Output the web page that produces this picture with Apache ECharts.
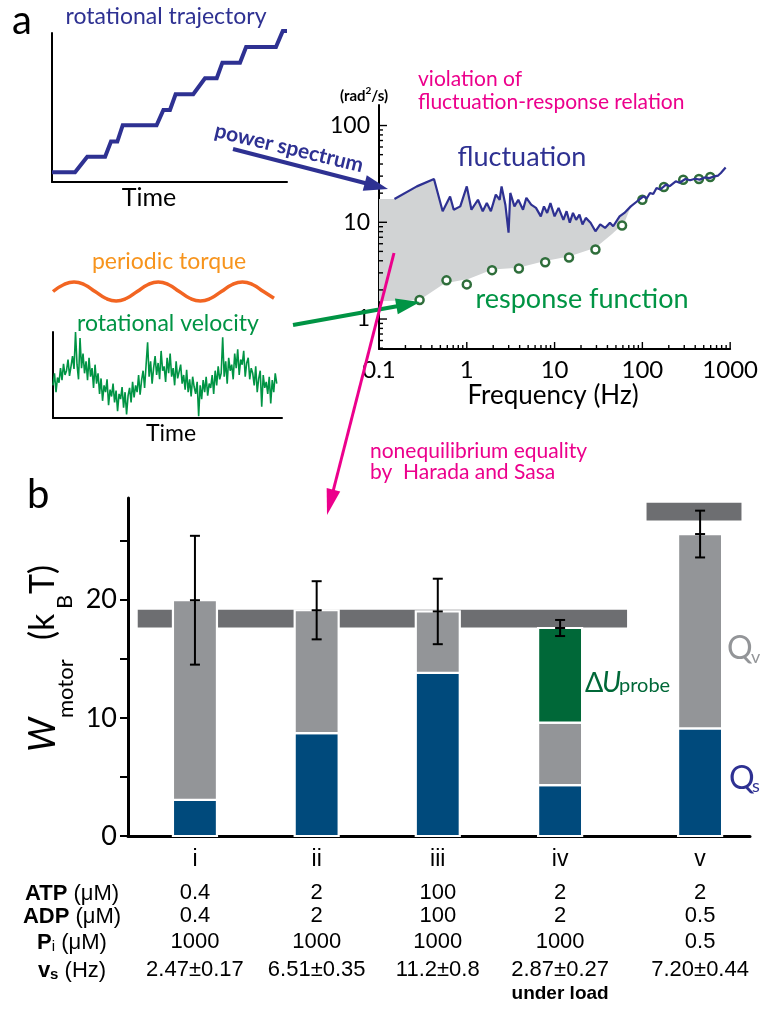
<!DOCTYPE html>
<html>
<head>
<meta charset="utf-8">
<script src="https://cdn.jsdelivr.net/npm/echarts@6/dist/echarts.min.js"></script>
<style>
  html, body { margin: 0; padding: 0; background: #fff; }
  #chart { width: 761px; height: 1017px; }
</style>
</head>
<body>
<div id="chart"></div>
<script>
// ---- panel a : insets ----
const trajTime  = [0, 9.8, 15.0, 22.6, 25.1, 27.8, 30.1, 44.5, 47.4, 50.2, 52.6, 60.1, 65.1, 70.1, 72.5, 80.0, 82.6, 95.3, 98.2, 100];
const trajAngle = [6.5, 6.5, 17.0, 17.0, 27.1, 27.1, 38.1, 38.1, 48.3, 48.3, 58.9, 58.9, 69.6, 69.6, 80.1, 80.1, 90.6, 90.6, 101.3, 101.3];

const torque = [0, 0.71, 1, 0.71, 0, -0.71, -1, -0.71, 0, 0.71, 1, 0.71, 0, -0.71, -1, -0.71, 0, 0.71, 1, 0.71, 0, -0.71];

const velocity = [
  38, 52, 30, 47, 41, 58, 44, 63, 50, 55, 68, 49, 60, 72, 57, 100, 62, 45, 93, 58,
  75, 52, 66, 44, 70, 48, 58, 35, 62, 40, 52, 28, 46, 20, 38, 30, 45, 15, 33, 25,
  40, 18, 32, 8, 28, 22, 36, 12, 30, 4, 26, 35, 18, 42, 24, 38, 30, 50, 27, 44,
  55, 35, 62, 88, 48, 66, 40, 58, 72, 50, 64, 45, 78, 55, 60, 42, 70, 52, 75, 48, 58, 38, 66, 46, 54,
  62, 40, 50, 33, 56, 30, 45, 25, 48, 36, 28, 42, 2, 38, 22, 44, 30, 48, 26, 40,
  35, 50, 28, 55, 38, 60, 45, 52, 94, 48, 66, 40, 70, 55, 62, 45, 75, 58, 80, 50, 68, 62, 78, 48, 64,
  70, 45, 58, 52, 38, 60, 30, 46, 55, 13, 50, 35, 42, 28, 48, 17, 44, 30, 52, 40
];

// ---- panel a : spectrum (Hz, rad^2/s) ----
const fluctFreq = [0.150, 0.270, 0.423, 0.531, 0.645, 0.71, 0.843, 1.0, 1.13, 1.34, 1.52, 1.69, 1.88, 2.14, 2.37, 2.49, 2.75, 2.99, 3.13, 3.49,
  3.86, 4.37, 4.77, 5.41, 6.14, 6.97, 7.57, 8.23, 8.97, 10, 11.1, 12.6, 13.7, 14.9, 16.2, 17.6, 19.2, 20.8, 22.7, 25.7,
  29.2, 33.1, 37.6, 42.7, 46.5, 55, 62.4, 73.8, 87.4, 103, 112, 122, 133, 145, 160, 186, 205, 240, 265, 309,
  350, 398, 450, 513, 580, 661, 730, 783, 888];
const fluctPower = [17.4, 23.5, 28.0, 13.0, 18.5, 13.5, 14.6, 23.5, 13.5, 17.1, 13.0, 15.8, 13.0, 19.3, 17.1, 23.5, 15.2, 7.8, 20.1, 14.6,
  17.1, 13.5, 17.9, 15.2, 14.1, 11.5, 14.6, 12.5, 15.8, 11.5, 14.1, 10.6, 13.0, 9.9, 12.5, 10.6, 12.0, 9.5, 11.1, 9.9,
  8.07, 9.5, 8.75, 9.9, 9.1, 11.5, 12.5, 14.6, 16.5, 18.5, 17.6, 20.1, 19.6, 22.6, 21.8, 24.5, 23.6, 26.5, 25.6, 28.0,
  27.2, 28.2, 27.6, 29.1, 28.6, 29.8, 30.4, 32.3, 36.8];

const respFreq  = [0.29, 0.587, 1.0, 1.94, 3.92, 7.82, 14.6, 29.2, 58.7, 100, 176, 292, 441, 593];
const respPower = [1.57, 2.51, 2.28, 3.2, 3.33, 3.87, 4.33, 5.23, 9.25, 17.1, 23.2, 27.5, 28.0, 29.4];

// shaded gap between fluctuation and response
const shadeStart = [0.1, 17.4];
const shadeLowFreq  = [0.1, 0.29, 0.555, 1.06, 1.96, 3.86, 7.57, 14.9, 29.2, 44.5, 62.4];
const shadeLowPower = [1.53, 1.57, 2.33, 2.61, 3.25, 3.39, 3.96, 4.46, 5.44, 7.47, 9.86];

const logMajorX = [1, 10, 100, 1000];
const logMinorX = [0.2, 0.3, 0.4, 0.5, 0.6, 0.7, 0.8, 0.9, 2, 3, 4, 5, 6, 7, 8, 9,
  20, 30, 40, 50, 60, 70, 80, 90, 200, 300, 400, 500, 600, 700, 800, 900];
const logLabelX = [0.1, 1, 10, 100, 1000];
const logMajorY = [1, 10, 100];
const logMinorY = [0.5, 0.6, 0.7, 0.8, 0.9, 2, 3, 4, 5, 6, 7, 8, 9, 20, 30, 40, 50, 60, 70, 80, 90];

// ---- panel b ----
const categories = ['i', 'ii', 'iii', 'iv', 'v'];
const barPos = [0.55, 1.55, 2.545, 3.55, 4.70];
const qs    = [3.05, 8.7, 13.8, 4.3, 9.1];
const qv    = [16.9, 10.4, 5.2, 5.3, 16.45];
const probe = [0, 0, 0, 8.0, 0];
const wErr  = [5.45, 2.46, 2.77, 0.68, 1.98];
const bandFrom = [0.08, 4.26];
const bandTo   = [4.10, 5.04];
const bandLow  = [17.65, 26.7];
const bandHigh = [19.15, 28.2];
const yTicksB  = [0, 5, 10, 15, 20, 25];
const yLabelsB = [0, 10, 20];

const atp = ['0.4', '2', '100', '2', '2'];
const adp = ['0.4', '2', '100', '2', '0.5'];
const pi  = ['1000', '1000', '1000', '1000', '0.5'];
const vs  = ['2.47±0.17', '6.51±0.35', '11.2±0.8', '2.87±0.27', '7.20±0.44'];
const note = ['', '', '', 'under load', ''];

const NAVY = '#2e3192', GREEN = '#009444', MAGENTA = '#ec008c';
const SANS = 'Lato, "Noto Sans", sans-serif';
const ARIAL = '"Liberation Sans", Arial, sans-serif';

function txt(x, y, text, font, fill, align, extra) {
  return Object.assign({
    type: 'text', x: x, y: y, z: 20,
    style: { text: text, font: font, fill: fill, align: align || 'center', verticalAlign: 'middle' }
  }, extra || {});
}

function arrow(x0, y0, x1, y1, color, lw, headLen, headHalf) {
  const len = Math.hypot(x1 - x0, y1 - y0);
  const ux = (x1 - x0) / len, uy = (y1 - y0) / len;
  const bx = x1 - ux * headLen, by = y1 - uy * headLen;
  return [
    { type: 'line', z: 20, shape: { x1: x0, y1: y0, x2: bx + ux * 2, y2: by + uy * 2 },
      style: { stroke: color, lineWidth: lw } },
    { type: 'polygon', z: 20, shape: { points: [[x1, y1], [bx - uy * headHalf, by + ux * headHalf], [bx + uy * headHalf, by - ux * headHalf]] },
      style: { fill: color } }
  ];
}

const graphics = [
  txt(12, 21, 'a', '400 40px ' + SANS, '#000', 'left'),
  txt(166, 17, 'rotational trajectory', '400 23px ' + SANS, NAVY),
  txt(149, 198, 'Time', '400 25px ' + SANS, '#000'),
  txt(289, 148, 'power spectrum', '700 21px ' + SANS, NAVY, 'center', { rotation: -0.235 }),
  txt(522, 157, 'fluctuation', '400 27px ' + SANS, NAVY),
  txt(582, 299, 'response function', '400 27px ' + SANS, GREEN),
  txt(418, 79, 'violation of', '400 21px ' + SANS, MAGENTA, 'left'),
  txt(418, 102, 'fluctuation-response relation', '400 21px ' + SANS, MAGENTA, 'left'),
  {
    type: 'text', x: 364, y: 95, z: 20,
    style: {
      text: '{b|(rad}{s|2}{b|/s)}', align: 'center', verticalAlign: 'middle',
      rich: {
        b: { font: '700 15px ' + SANS, fill: '#000', verticalAlign: 'bottom', lineHeight: 18 },
        s: { font: '700 10px ' + SANS, fill: '#000', verticalAlign: 'top', lineHeight: 18 }
      }
    }
  },
  txt(553, 396, 'Frequency (Hz)', '400 26px ' + SANS, '#000'),
  txt(169, 262, 'periodic torque', '400 23px ' + SANS, '#f7941d'),
  txt(168, 324, 'rotational velocity', '400 23px ' + SANS, GREEN),
  txt(171, 434, 'Time', '400 23px ' + SANS, '#000'),
  txt(370, 451, 'nonequilibrium equality', '400 21px ' + SANS, MAGENTA, 'left'),
  txt(370, 472, 'by  Harada and Sasa', '400 21px ' + SANS, MAGENTA, 'left'),
  txt(27, 495, 'b', '400 40px ' + SANS, '#000', 'left'),
  {
    type: 'group', x: 55, y: 752, rotation: Math.PI / 2, z: 20,
    children: [
      txt(0, -12, 'W', 'italic 400 36px ' + SANS, '#000', 'left'),
      txt(34, 11, 'motor', '400 22px ' + SANS, '#000', 'left'),
      txt(112, -12, '(k', '400 34px ' + SANS, '#000', 'left'),
      txt(143, 10, 'B', '400 22px ' + SANS, '#000', 'left'),
      txt(158, -12, 'T)', '400 34px ' + SANS, '#000', 'left')
    ]
  },
  txt(585, 683, 'Δ', '400 27px ' + SANS, '#006838', 'left'),
  txt(602, 683, 'U', 'italic 400 28px ' + SANS, '#006838', 'left'),
  txt(619, 686, 'probe', '400 20px ' + SANS, '#006838', 'left'),
  txt(727, 649, 'Q', '400 32px ' + SANS, '#939598', 'left'),
  txt(751, 657, 'v', '400 18px ' + SANS, '#939598', 'left'),
  txt(729, 779, 'Q', '400 32px ' + SANS, NAVY, 'left'),
  txt(752, 786, 's', '400 18px ' + SANS, NAVY, 'left')
];

const rowRich = {
  b: { font: '700 22px ' + ARIAL, fill: '#000', verticalAlign: 'bottom', lineHeight: 24 },
  bs: { font: '700 15px ' + ARIAL, fill: '#000', verticalAlign: 'bottom', lineHeight: 24 },
  ns: { font: '400 15px ' + ARIAL, fill: '#000', verticalAlign: 'bottom', lineHeight: 24 },
  n: { font: '400 22px ' + ARIAL, fill: '#000', verticalAlign: 'bottom', lineHeight: 24 }
};
[['{b|ATP}{n| (μM)}', 893], ['{b|ADP}{n| (μM)}', 916], ['{b|P}{ns|i}{n| (μM)}', 942], ['{b|v}{bs|s}{n| (Hz)}', 970]].forEach(function (r) {
  graphics.push({ type: 'text', x: 72, y: r[1], z: 20,
    style: { text: r[0], align: 'center', verticalAlign: 'middle', rich: rowRich } });
});

graphics.push.apply(graphics, arrow(233, 149, 388, 189, NAVY, 4, 24, 8));
graphics.push.apply(graphics, arrow(293, 325, 420, 302, GREEN, 4, 24, 8));
graphics.push.apply(graphics, arrow(394, 253, 327, 515, MAGENTA, 3, 26, 7));

const plainAxis = (grid, min, max, show) => ({
  gridIndex: grid, type: 'value', min: min, max: max, show: show,
  axisLine: { show: true, onZero: false, lineStyle: { color: '#000', width: 2 } },
  axisTick: { show: false }, axisLabel: { show: false }, splitLine: { show: false }
});

const X_MIN = 0.1, Y_MIN = 0.49;

const option = {
  animation: false,
  backgroundColor: '#fff',
  grid: [
    { left: 52, top: 33, width: 235, height: 149 },
    { left: 53, top: 282, width: 221, height: 19 },
    { left: 53, top: 332, width: 229, height: 86 },
    { left: 379, top: 105, width: 364, height: 244 },
    { left: 128, top: 498, width: 622, height: 338 }
  ],
  xAxis: [
    plainAxis(0, 0, 100, true),
    plainAxis(1, 0, 21, false),
    plainAxis(2, 0, 152.5, true),
    {
      gridIndex: 3, type: 'log', logBase: 10, min: X_MIN, max: 1000,
      axisLine: { onZero: false, lineStyle: { color: '#000', width: 2 } },
      axisTick: { show: false },
      axisLabel: { customValues: logLabelX, formatter: v => String(v), margin: 9, color: '#000', fontSize: 24, fontFamily: SANS },
      splitLine: { show: false }
    },
    {
      gridIndex: 4, type: 'value', min: 0, max: 5.11,
      axisLine: { onZero: false, lineStyle: { color: '#000', width: 3 } },
      axisTick: { show: false },
      axisLabel: { customValues: barPos, formatter: v => categories[barPos.indexOf(v)], margin: 12,
        color: '#000', fontSize: 23, fontFamily: ARIAL },
      splitLine: { show: false }
    }
  ],
  yAxis: [
    plainAxis(0, 0, 100, true),
    plainAxis(1, -1, 1, false),
    plainAxis(2, 0, 100, true),
    {
      gridIndex: 3, type: 'log', logBase: 10, min: Y_MIN, max: 163,
      axisLine: { onZero: false, lineStyle: { color: '#000', width: 2 } },
      axisTick: { show: false },
      axisLabel: { customValues: logMajorY, formatter: v => String(v), margin: 9, color: '#000', fontSize: 23, fontFamily: SANS },
      splitLine: { show: false }
    },
    {
      gridIndex: 4, type: 'value', min: 0, max: 28.6,
      axisLine: { onZero: false, lineStyle: { color: '#000', width: 3 } },
      axisTick: { length: 8, customValues: yTicksB, lineStyle: { color: '#000', width: 2 } },
      axisLabel: { customValues: yLabelsB, margin: 11, color: '#000', fontSize: 27, fontFamily: SANS },
      splitLine: { show: false }
    }
  ],
  series: [
    {
      type: 'line', xAxisIndex: 0, yAxisIndex: 0, clip: false, showSymbol: false,
      data: trajTime.map((t, i) => [t, trajAngle[i]]),
      lineStyle: { color: NAVY, width: 4, join: 'miter' }
    },
    {
      type: 'line', xAxisIndex: 1, yAxisIndex: 1, clip: false, showSymbol: false, smooth: 0.5,
      data: torque.map((v, i) => [i, v]),
      lineStyle: { color: '#f26522', width: 3.5 }
    },
    {
      type: 'line', xAxisIndex: 2, yAxisIndex: 2, clip: false, showSymbol: false,
      data: velocity.map((v, i) => [i, v]),
      lineStyle: { color: GREEN, width: 1.6 }
    },
    {
      type: 'custom', xAxisIndex: 3, yAxisIndex: 3, data: [[1, 1]], silent: true,
      renderItem: function (params, api) {
        const pts = [api.coord(shadeStart)];
        fluctFreq.forEach(function (f, i) { if (f <= 74) pts.push(api.coord([f, fluctPower[i]])); });
        for (let i = shadeLowFreq.length - 1; i >= 0; i--) pts.push(api.coord([shadeLowFreq[i], shadeLowPower[i]]));
        return { type: 'polygon', shape: { points: pts }, style: { fill: '#d1d3d4' } };
      }
    },
    {
      // log-axis ticks (major + minor), drawn inward
      type: 'custom', xAxisIndex: 3, yAxisIndex: 3, data: [[1, 1]], silent: true, z: 3,
      renderItem: function (params, api) {
        const bottom = api.coord([X_MIN, Y_MIN])[1];
        const left = api.coord([X_MIN, Y_MIN])[0];
        const st = { stroke: '#000', lineWidth: 1.4 };
        const kids = [];
        const vt = (v, len) => { const x = api.coord([v, 1])[0]; kids.push({ type: 'line', shape: { x1: x, y1: bottom, x2: x, y2: bottom - len }, style: st }); };
        const ht = (v, len) => { const y = api.coord([1, v])[1]; kids.push({ type: 'line', shape: { x1: left, y1: y, x2: left + len, y2: y }, style: st }); };
        logMajorX.forEach(v => vt(v, 7));
        logMinorX.forEach(v => vt(v, 4));
        logMajorY.forEach(v => ht(v, 8));
        logMinorY.forEach(v => ht(v, 4));
        return { type: 'group', children: kids };
      }
    },
    {
      type: 'line', xAxisIndex: 3, yAxisIndex: 3, showSymbol: false,
      data: fluctFreq.map((f, i) => [f, fluctPower[i]]),
      lineStyle: { color: NAVY, width: 2.2 }
    },
    {
      type: 'scatter', xAxisIndex: 3, yAxisIndex: 3, symbol: 'circle', symbolSize: 8,
      data: respFreq.map((f, i) => [f, respPower[i]]),
      itemStyle: { color: '#fff', borderColor: '#2f6e3b', borderWidth: 2.5, opacity: 1 }
    },
    {
      type: 'custom', xAxisIndex: 4, yAxisIndex: 4, silent: true,
      data: bandFrom.map((f, i) => [f, bandTo[i], bandLow[i], bandHigh[i]]),
      renderItem: function (params, api) {
        const a = api.coord([api.value(0), api.value(3)]);
        const b = api.coord([api.value(1), api.value(2)]);
        return { type: 'rect', shape: { x: a[0], y: a[1], width: b[0] - a[0], height: b[1] - a[1] }, style: { fill: '#6d6e71' } };
      }
    },
    {
      type: 'custom', xAxisIndex: 4, yAxisIndex: 4, silent: true,
      data: barPos.map((p, i) => [p, qs[i], qv[i], probe[i]]),
      renderItem: function (params, api) {
        const x = api.value(0);
        const s = api.value(1), v = api.value(2), p = api.value(3);
        const segs = [[0, s, '#004a7c'], [s, s + v, '#939598'], [s + v, s + v + p, '#006838']];
        const w = 44;
        const children = [];
        segs.forEach(function (g) {
          if (g[1] - g[0] <= 0) return;
          const top = api.coord([x, g[1]]), bot = api.coord([x, g[0]]);
          children.push({ type: 'rect', shape: { x: top[0] - w / 2, y: top[1], width: w, height: bot[1] - top[1] },
            style: { fill: g[2], stroke: '#fff', lineWidth: 2.2 } });
        });
        return { type: 'group', children: children };
      }
    },
    {
      type: 'custom', xAxisIndex: 4, yAxisIndex: 4, silent: true,
      data: barPos.map((p, i) => [p, qs[i] + qv[i] + probe[i], wErr[i]]),
      renderItem: function (params, api) {
        const x = api.value(0), m = api.value(1), e = api.value(2);
        const c = api.coord([x, m]), hi = api.coord([x, m + e]), lo = api.coord([x, m - e]);
        const st = { stroke: '#000', lineWidth: 2 };
        return { type: 'group', children: [
          { type: 'line', shape: { x1: c[0], y1: hi[1], x2: c[0], y2: lo[1] }, style: st },
          { type: 'line', shape: { x1: c[0] - 5, y1: hi[1], x2: c[0] + 5, y2: hi[1] }, style: st },
          { type: 'line', shape: { x1: c[0] - 5, y1: c[1], x2: c[0] + 5, y2: c[1] }, style: st },
          { type: 'line', shape: { x1: c[0] - 5, y1: lo[1], x2: c[0] + 5, y2: lo[1] }, style: st }
        ] };
      }
    },
    {
      type: 'custom', xAxisIndex: 4, yAxisIndex: 4, silent: true,
      data: barPos.map((p, i) => [p, i]),
      renderItem: function (params, api) {
        const i = api.value(1);
        const cx = api.coord([api.value(0), 0])[0];
        const cell = (y, t, font) => ({ type: 'text', x: cx, y: y,
          style: { text: t, font: font || ('400 22px ' + ARIAL), fill: '#000', align: 'center', verticalAlign: 'middle' } });
        return { type: 'group', children: [
          cell(893, atp[i]), cell(916, adp[i]), cell(942, pi[i]), cell(970, vs[i]),
          cell(994, note[i], '700 19px ' + ARIAL)
        ] };
      }
    }
  ],
  graphic: { elements: graphics }
};

const chart = echarts.init(document.getElementById('chart'));
chart.setOption(option);
</script>
</body>
</html>
